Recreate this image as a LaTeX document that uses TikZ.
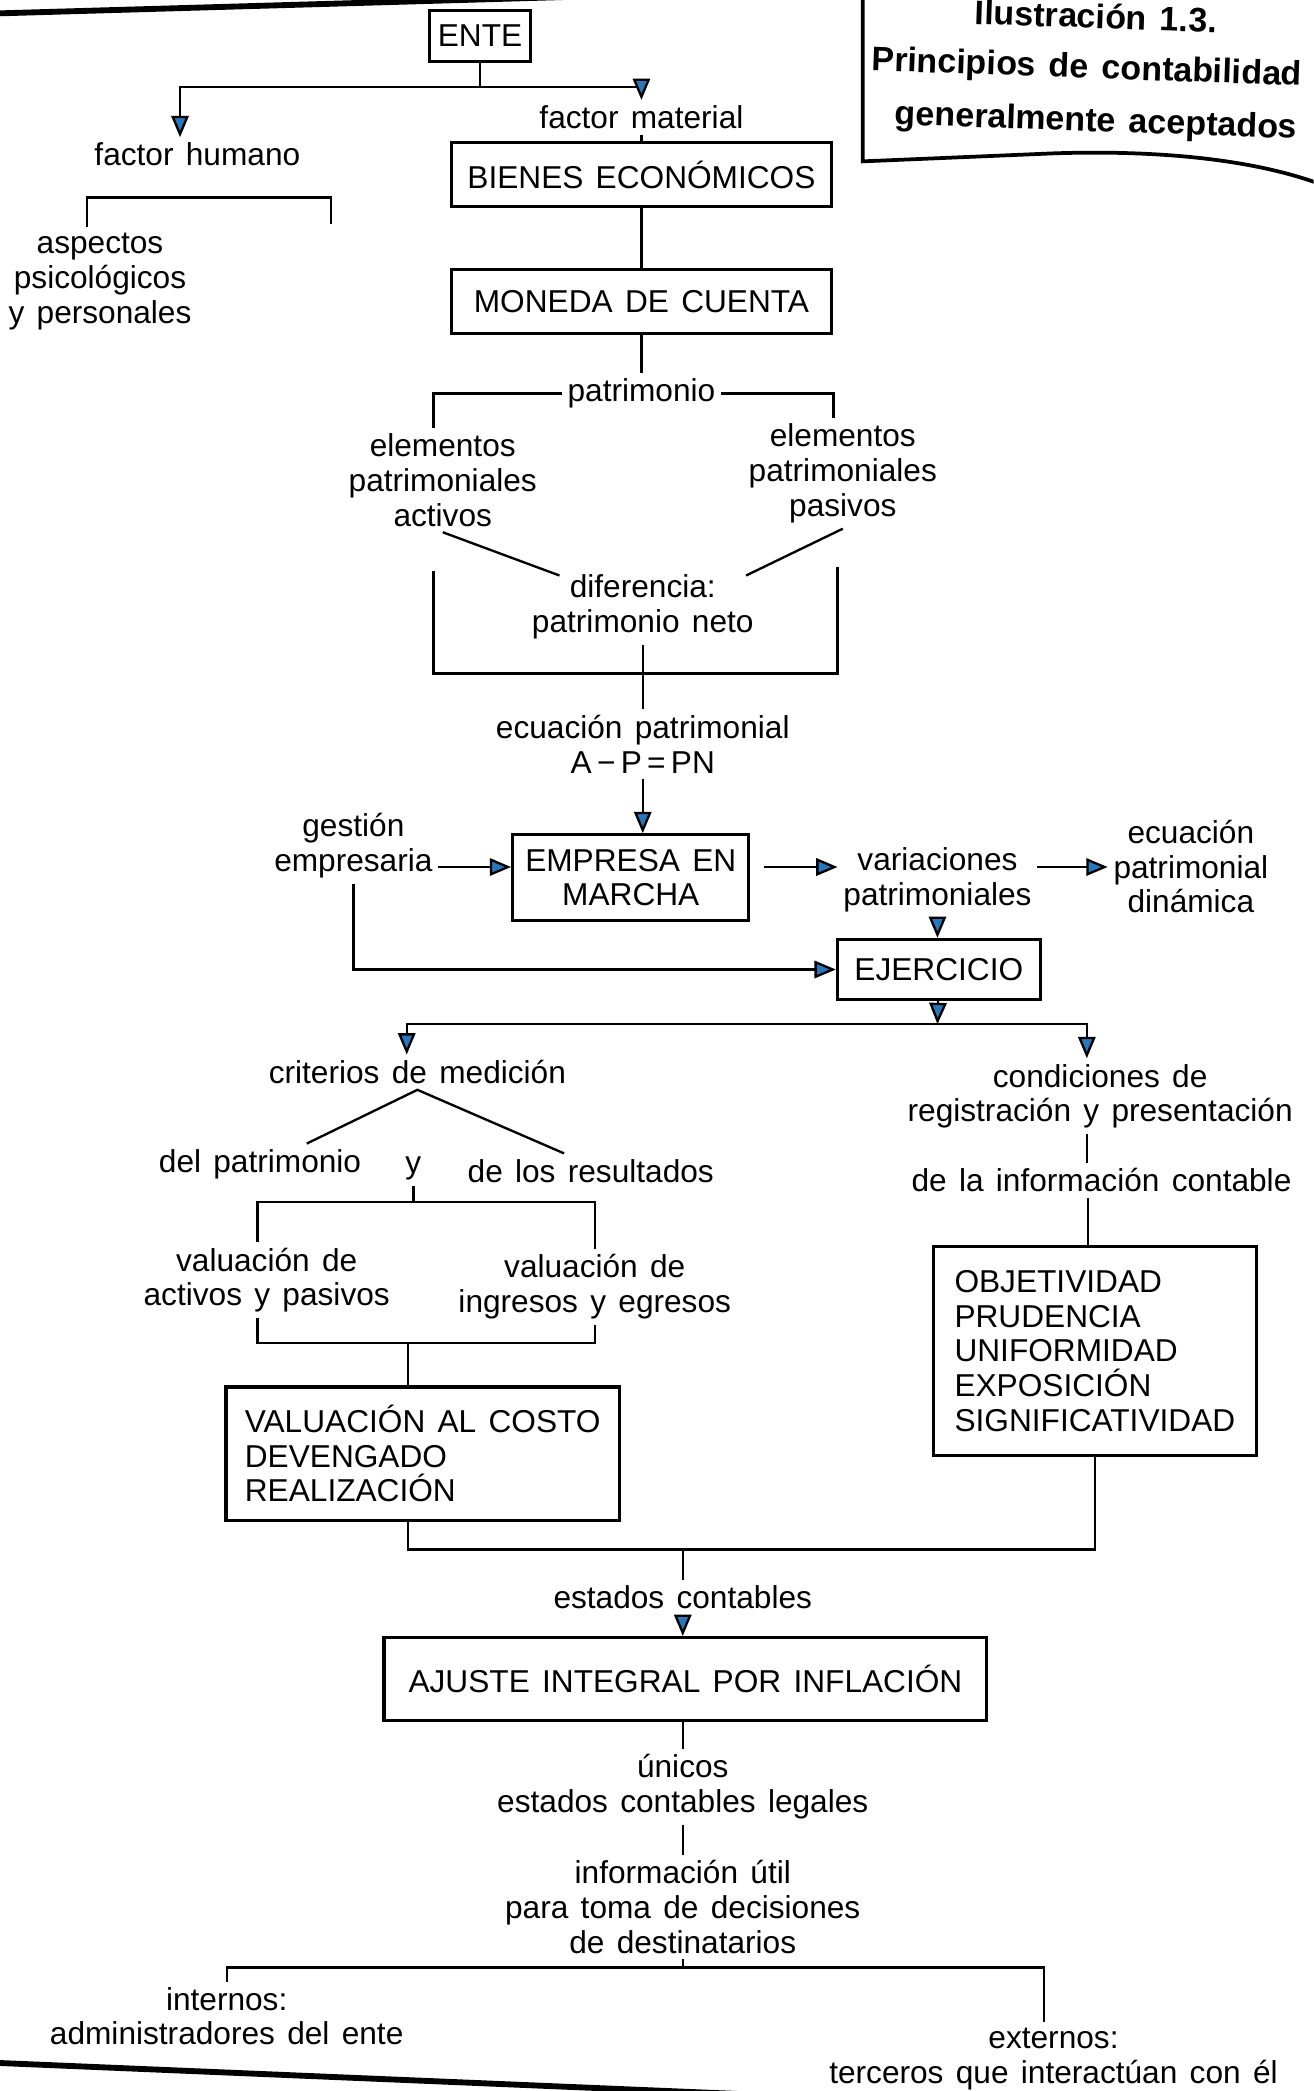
\documentclass[tikz,border=0pt]{standalone}
\tikzset{
every picture/.style={
line width=1pt
}}
\usepackage{tikz}
\usepackage{fontspec}
\setmainfont{Liberation Sans}[WordSpace=1.4]
\usetikzlibrary{arrows.meta}
\definecolor{azul}{RGB}{40,120,190}

\begin{document}
\begin{tikzpicture}[x=0.2mm, y=-0.2mm,
    every node/.style={font=\fontsize{13.5}{14.8}\selectfont, inner sep=2pt, align=center},
    caja/.style={draw, line width=1.4pt},
    titulo/.style={font=\fontsize{14.5}{17}\bfseries\selectfont, rotate=-2},
    flecha/.style={-{Triangle[length=3.2mm, width=2.6mm, fill=azul]}}]
      \path[use as bounding box] (0,0) rectangle (985,1568);
      \clip (0,0) rectangle (985,1568);
      % page rules and title box
      \draw [line width=2.5pt] (0,10) -- (450,-3);
      \draw [line width=2.5pt] (0,1547) -- (620,1573);
      \draw [line width=1.6pt] (647,-5) -- (647,121) -- (790,115)
        .. controls (880,112) and (950,122) .. (995,140);
      \node [titulo] (titulo1) at (822,12) {Ilustración 1.3.};
      \node [titulo] (titulo2) at (815,52) {Principios de contabilidad};
      \node [titulo] (titulo3) at (822,92) {generalmente aceptados};

      % upper part
      \node [caja, minimum width=1.52cm, minimum height=0.76cm] (ente) at (360,27) {ENTE};
      \node (humano) at (148,116) {factor humano};
      \node (material) at (481,88) {factor material};
      \node (aspectos) at (75,211) {aspectos\\psicológicos\\y personales};
      \node [caja, minimum width=5.7cm, minimum height=0.96cm] (bienes) at (481,131) {BIENES ECONÓMICOS};
      \node [caja, minimum width=5.7cm, minimum height=0.96cm] (moneda) at (481,226) {MONEDA DE CUENTA};
      \node (patrimonio) at (481,295) {patrimonio};
      \node (activos) at (332,360) {elementos\\patrimoniales\\activos};
      \node (pasivos) at (632,355) {elementos\\patrimoniales\\pasivos};
      \node (diferencia) at (482,455) {diferencia:\\patrimonio neto};
      \node (ecuacion) at (482,558) {ecuación patrimonial\\A\,−\,P\,=\,PN};

      \coordinate (ramaE) at (360,65);
      \draw (ente) -- (ramaE);
      \draw [flecha] (ramaE) -| ([xshift=-0.26cm]humano.north);
      \draw [flecha] (ramaE) -| (material.north);
      \draw ([xshift=-0.2cm]aspectos.north) |- (248,148) -- (248,168);
      \draw (material) -- (bienes);
      \draw (bienes) -- (moneda);
      \draw (moneda) -- (patrimonio);
      \draw (patrimonio.west) -| ([xshift=-0.14cm]activos.north);
      \draw (patrimonio.east) -| ([xshift=-0.14cm]pasivos.north);
      \draw (activos.south) -- ([xshift=0.5cm]diferencia.165);
      \draw (pasivos.south) -- ([xshift=-0.2cm]diferencia.15);
      \draw (325,428) |- (628,505) -- (628,425);
      \draw (diferencia) -- (ecuacion);

      % middle part
      \node (gestion) at (265,634) {gestión\\empresaria};
      \node [caja, minimum width=3.54cm, minimum height=1.28cm] (empresa) at (473,658) {EMPRESA EN\\MARCHA};
      \node (variaciones) at (703,660) {variaciones\\patrimoniales};
      \node (dinamica) at (893,650) {ecuación\\patrimonial\\dinámica};
      \node [caja, minimum width=3.04cm, minimum height=0.9cm] (ejercicio) at (704,727) {EJERCICIO};

      \draw [flecha] (ecuacion.south) -- (ecuacion.south |- empresa.north);
      \draw [flecha] (gestion.east |- empresa.175) -- (empresa.175);
      \draw [flecha, shorten <=0.2cm] (empresa.5) -- (empresa.5 -| variaciones.west);
      \draw [flecha] (variaciones.east |- empresa.5) -- (empresa.5 -| dinamica.west);
      \draw [flecha] (variaciones.south) -- (variaciones.south |- ejercicio.north);
      \draw [flecha] (gestion.south) |- (ejercicio.west);

      % criterios de medicion
      \node (criterios) at (313,804) {criterios de medición};
      \node (delpat) at (195,873) {del patrimonio};
      \node (ynodo) at (310,876) {y};
      \node (resultados) at (443,878) {de los resultados};
      \node (valact) at (200,960) {valuación de\\activos y pasivos};
      \node (valing) at (446,965) {valuación de\\ingresos y egresos};
      \node [caja, minimum width=5.9cm, minimum height=2cm, align=left] (valuacion) at (317,1090)
        {VALUACIÓN AL COSTO\\DEVENGADO\\REALIZACIÓN};

      % condiciones
      \node (condiciones) at (825,822) {condiciones de\\registración y presentación};
      \node (informacion) at (826,885) {de la información contable};
      \node [caja, minimum width=4.84cm, minimum height=3.14cm, align=left] (objetividad) at (821,1013)
        {OBJETIVIDAD\\PRUDENCIA\\UNIFORMIDAD\\EXPOSICIÓN\\SIGNIFICATIVIDAD};

      \coordinate (ramaJ) at (703,768);
      \draw [flecha] (ejercicio) -- (ramaJ);
      \draw [flecha] (ramaJ) -| ([xshift=-0.16cm]criterios.north);
      \draw [flecha] (ramaJ) -| ([xshift=-0.2cm]condiciones.north);
      \draw ([xshift=0.7cm]delpat.north) -- (criterios.south) -- ([xshift=-0.4cm]resultados.north);
      \draw (ynodo.south) -- ++(0,12) coordinate (yb);
      \draw ([xshift=-0.14cm]valact.north) |- (yb) -| (valing.north);
      \coordinate (vb) at (306,1007);
      \draw ([xshift=-0.14cm]valact.south) |- (vb) -| (valing.south);
      \draw (vb) -- (vb |- valuacion.north);
      \coordinate (c1) at ([xshift=-0.2cm]condiciones.south);
      \draw (c1) -- (c1 |- informacion.north);
      \coordinate (c2) at ([xshift=-0.2cm]informacion.south);
      \draw (c2) -- (c2 |- objetividad.north);

      % lower part
      \node (estados) at (512,1198) {estados contables};
      \node [caja, minimum width=9.04cm, minimum height=1.24cm] (ajuste) at (514,1259) {AJUSTE INTEGRAL POR INFLACIÓN};
      \node (unicos) at (512,1340) {únicos\\estados contables legales};
      \node (utilinfo) at (512,1430) {información útil\\para toma de decisiones\\de destinatarios};
      \node (internos) at (170,1512) {internos:\\administradores del ente};
      \node (externos) at (790,1544) {externos:\\terceros que interactúan con él};

      \coordinate (eb) at (512,1162);
      \draw (vb |- valuacion.south) |- (eb) -| (objetividad.south);
      \draw (eb) -- (estados);
      \draw [flecha] (estados.south) -- (estados.south |- ajuste.north);
      \draw (ajuste.south -| unicos) -- (unicos);
      \draw (unicos) -- (utilinfo);
      \draw (utilinfo.south) -- ++(0,6) coordinate (ramaD);
      \draw (internos.north) |- (ramaD) -| ([xshift=-0.14cm]externos.north);
\end{tikzpicture}
\end{document}
